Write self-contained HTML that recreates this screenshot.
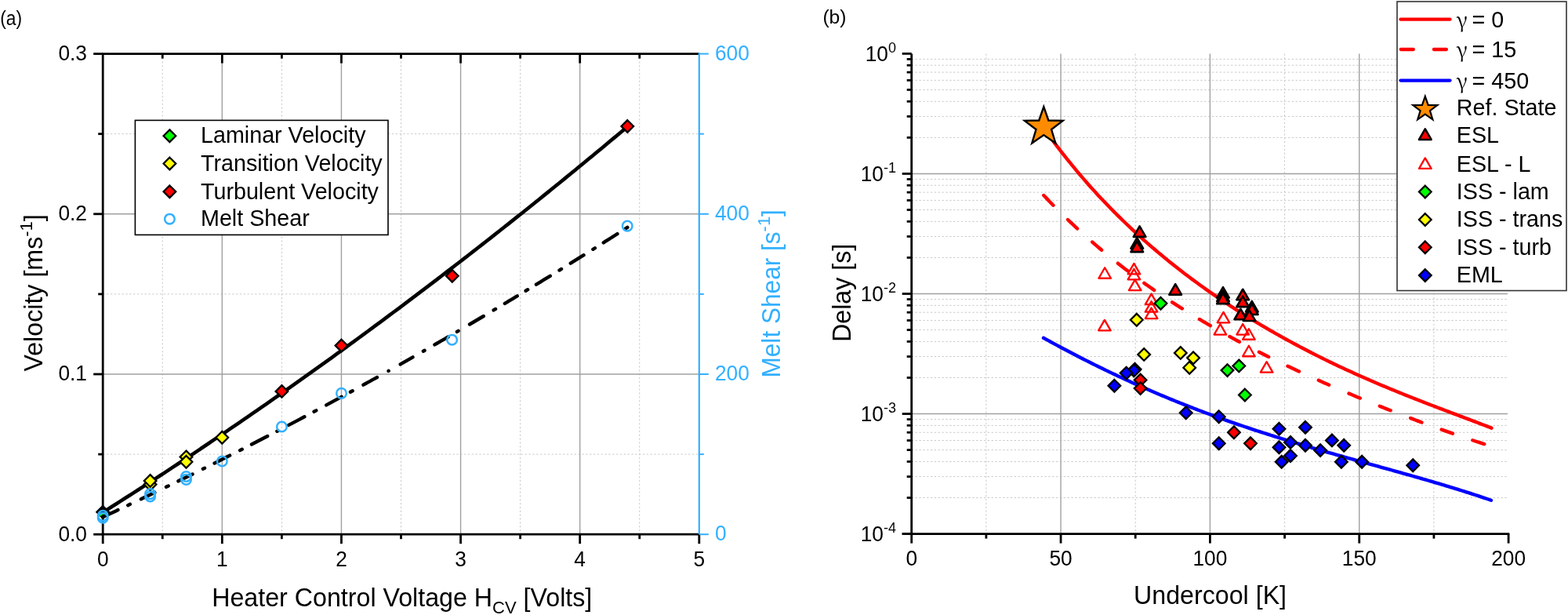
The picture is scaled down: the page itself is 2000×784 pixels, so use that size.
<!DOCTYPE html>
<html><head><meta charset="utf-8"><title>Figure</title>
<style>html,body{margin:0;padding:0;background:#fff;width:2000px;height:784px;overflow:hidden}svg{display:block}</style>
</head><body>
<svg width="2000" height="784" viewBox="0 0 2000 784">
<rect width="2000" height="784" fill="#fff"/>
<line x1="207.26" y1="68.6" x2="207.26" y2="681.2" stroke="#cacaca" stroke-width="1" stroke-dasharray="2.4 2.45"/>
<line x1="359.38" y1="68.6" x2="359.38" y2="681.2" stroke="#cacaca" stroke-width="1" stroke-dasharray="2.4 2.45"/>
<line x1="511.5" y1="68.6" x2="511.5" y2="681.2" stroke="#cacaca" stroke-width="1" stroke-dasharray="2.4 2.45"/>
<line x1="663.62" y1="68.6" x2="663.62" y2="681.2" stroke="#cacaca" stroke-width="1" stroke-dasharray="2.4 2.45"/>
<line x1="815.74" y1="68.6" x2="815.74" y2="681.2" stroke="#cacaca" stroke-width="1" stroke-dasharray="2.4 2.45"/>
<line x1="131.2" y1="579.1" x2="891.8" y2="579.1" stroke="#cacaca" stroke-width="1" stroke-dasharray="2.4 2.45"/>
<line x1="131.2" y1="374.9" x2="891.8" y2="374.9" stroke="#cacaca" stroke-width="1" stroke-dasharray="2.4 2.45"/>
<line x1="131.2" y1="170.7" x2="891.8" y2="170.7" stroke="#cacaca" stroke-width="1" stroke-dasharray="2.4 2.45"/>
<line x1="283.32" y1="68.6" x2="283.32" y2="681.2" stroke="#a0a0a0" stroke-width="1.4"/>
<line x1="435.44" y1="68.6" x2="435.44" y2="681.2" stroke="#a0a0a0" stroke-width="1.4"/>
<line x1="587.56" y1="68.6" x2="587.56" y2="681.2" stroke="#a0a0a0" stroke-width="1.4"/>
<line x1="739.68" y1="68.6" x2="739.68" y2="681.2" stroke="#a0a0a0" stroke-width="1.4"/>
<line x1="131.2" y1="477" x2="891.8" y2="477" stroke="#a0a0a0" stroke-width="1.4"/>
<line x1="131.2" y1="272.8" x2="891.8" y2="272.8" stroke="#a0a0a0" stroke-width="1.4"/>
<line x1="131.2" y1="68.6" x2="131.2" y2="681.2" stroke="#000" stroke-width="2.8"/>
<line x1="129.8" y1="68.6" x2="891.8" y2="68.6" stroke="#000" stroke-width="2.8"/>
<line x1="129.8" y1="681.2" x2="891.8" y2="681.2" stroke="#000" stroke-width="2.8"/>
<line x1="891.8" y1="67.2" x2="891.8" y2="681.2" stroke="#33b0ff" stroke-width="2.2"/>
<line x1="131.2" y1="681.2" x2="131.2" y2="693.2" stroke="#000" stroke-width="2.8"/>
<line x1="283.32" y1="681.2" x2="283.32" y2="693.2" stroke="#000" stroke-width="2.8"/>
<line x1="283.32" y1="68.6" x2="283.32" y2="80.6" stroke="#000" stroke-width="2.8"/>
<line x1="435.44" y1="681.2" x2="435.44" y2="693.2" stroke="#000" stroke-width="2.8"/>
<line x1="435.44" y1="68.6" x2="435.44" y2="80.6" stroke="#000" stroke-width="2.8"/>
<line x1="587.56" y1="681.2" x2="587.56" y2="693.2" stroke="#000" stroke-width="2.8"/>
<line x1="587.56" y1="68.6" x2="587.56" y2="80.6" stroke="#000" stroke-width="2.8"/>
<line x1="739.68" y1="681.2" x2="739.68" y2="693.2" stroke="#000" stroke-width="2.8"/>
<line x1="739.68" y1="68.6" x2="739.68" y2="80.6" stroke="#000" stroke-width="2.8"/>
<line x1="891.8" y1="681.2" x2="891.8" y2="693.2" stroke="#000" stroke-width="2.8"/>
<line x1="207.26" y1="681.2" x2="207.26" y2="687.2" stroke="#000" stroke-width="2.8"/>
<line x1="207.26" y1="68.6" x2="207.26" y2="74.6" stroke="#000" stroke-width="2.8"/>
<line x1="359.38" y1="681.2" x2="359.38" y2="687.2" stroke="#000" stroke-width="2.8"/>
<line x1="359.38" y1="68.6" x2="359.38" y2="74.6" stroke="#000" stroke-width="2.8"/>
<line x1="511.5" y1="681.2" x2="511.5" y2="687.2" stroke="#000" stroke-width="2.8"/>
<line x1="511.5" y1="68.6" x2="511.5" y2="74.6" stroke="#000" stroke-width="2.8"/>
<line x1="663.62" y1="681.2" x2="663.62" y2="687.2" stroke="#000" stroke-width="2.8"/>
<line x1="663.62" y1="68.6" x2="663.62" y2="74.6" stroke="#000" stroke-width="2.8"/>
<line x1="815.74" y1="681.2" x2="815.74" y2="687.2" stroke="#000" stroke-width="2.8"/>
<line x1="815.74" y1="68.6" x2="815.74" y2="74.6" stroke="#000" stroke-width="2.8"/>
<line x1="119.2" y1="681.2" x2="131.2" y2="681.2" stroke="#000" stroke-width="2.8"/>
<line x1="891.8" y1="681.2" x2="903.8" y2="681.2" stroke="#33b0ff" stroke-width="2"/>
<line x1="119.2" y1="477" x2="131.2" y2="477" stroke="#000" stroke-width="2.8"/>
<line x1="891.8" y1="477" x2="903.8" y2="477" stroke="#33b0ff" stroke-width="2"/>
<line x1="119.2" y1="272.8" x2="131.2" y2="272.8" stroke="#000" stroke-width="2.8"/>
<line x1="891.8" y1="272.8" x2="903.8" y2="272.8" stroke="#33b0ff" stroke-width="2"/>
<line x1="119.2" y1="68.6" x2="131.2" y2="68.6" stroke="#000" stroke-width="2.8"/>
<line x1="891.8" y1="68.6" x2="903.8" y2="68.6" stroke="#33b0ff" stroke-width="2"/>
<line x1="125.2" y1="579.1" x2="131.2" y2="579.1" stroke="#000" stroke-width="2.8"/>
<line x1="891.8" y1="579.1" x2="897.8" y2="579.1" stroke="#33b0ff" stroke-width="2"/>
<line x1="125.2" y1="374.9" x2="131.2" y2="374.9" stroke="#000" stroke-width="2.8"/>
<line x1="891.8" y1="374.9" x2="897.8" y2="374.9" stroke="#33b0ff" stroke-width="2"/>
<line x1="125.2" y1="170.7" x2="131.2" y2="170.7" stroke="#000" stroke-width="2.8"/>
<line x1="891.8" y1="170.7" x2="897.8" y2="170.7" stroke="#33b0ff" stroke-width="2"/>
<text font-family='"Liberation Sans", Arial, sans-serif' font-size="26.3" text-anchor="middle" transform="translate(131.20,721.80) scale(1,1.04)">0</text>
<text font-family='"Liberation Sans", Arial, sans-serif' font-size="26.3" text-anchor="middle" transform="translate(283.32,721.80) scale(1,1.04)">1</text>
<text font-family='"Liberation Sans", Arial, sans-serif' font-size="26.3" text-anchor="middle" transform="translate(435.44,721.80) scale(1,1.04)">2</text>
<text font-family='"Liberation Sans", Arial, sans-serif' font-size="26.3" text-anchor="middle" transform="translate(587.56,721.80) scale(1,1.04)">3</text>
<text font-family='"Liberation Sans", Arial, sans-serif' font-size="26.3" text-anchor="middle" transform="translate(739.68,721.80) scale(1,1.04)">4</text>
<text font-family='"Liberation Sans", Arial, sans-serif' font-size="26.3" text-anchor="middle" transform="translate(891.80,721.80) scale(1,1.04)">5</text>
<text font-family='"Liberation Sans", Arial, sans-serif' font-size="26.3" text-anchor="end" transform="translate(111.00,689.50) scale(1,1.04)">0.0</text>
<text font-family='"Liberation Sans", Arial, sans-serif' font-size="26.3" text-anchor="end" transform="translate(111.00,485.30) scale(1,1.04)">0.1</text>
<text font-family='"Liberation Sans", Arial, sans-serif' font-size="26.3" text-anchor="end" transform="translate(111.00,281.10) scale(1,1.04)">0.2</text>
<text font-family='"Liberation Sans", Arial, sans-serif' font-size="26.3" text-anchor="end" transform="translate(111.00,76.90) scale(1,1.04)">0.3</text>
<text font-family='"Liberation Sans", Arial, sans-serif' font-size="26.3" fill="#33b0ff" transform="translate(911.90,689.30) scale(1,1.04)">0</text>
<text font-family='"Liberation Sans", Arial, sans-serif' font-size="26.3" fill="#33b0ff" transform="translate(911.90,485.10) scale(1,1.04)">200</text>
<text font-family='"Liberation Sans", Arial, sans-serif' font-size="26.3" fill="#33b0ff" transform="translate(911.90,280.90) scale(1,1.04)">400</text>
<text font-family='"Liberation Sans", Arial, sans-serif' font-size="26.3" fill="#33b0ff" transform="translate(911.90,76.70) scale(1,1.04)">600</text>
<text font-family='"Liberation Sans", Arial, sans-serif' font-size="32.2" transform="translate(270.20,773.30) scale(1,1.04)">Heater Control Voltage H<tspan font-size="22" dy="8.3">CV</tspan><tspan dy="-8.3"> [Volts]</tspan></text>
<text font-family='"Liberation Sans", Arial, sans-serif' font-size="32.2" transform="translate(54.40,473.50) rotate(-90) scale(1,1.04)">Velocity [ms<tspan font-size="22" dy="-13.2">-1</tspan><tspan dy="13.2">]</tspan></text>
<text font-family='"Liberation Sans", Arial, sans-serif' font-size="31.6" fill="#33b0ff" transform="translate(995.40,481.50) rotate(-90) scale(1,1.04)">Melt Shear [s<tspan font-size="22" dy="-13.3">-1</tspan><tspan dy="13.3">]</tspan></text>
<path d="M131.2,645 L139,652.8 L131.2,660.6 L123.4,652.8Z" fill="#000" stroke="#000" stroke-width="2.3" stroke-linejoin="miter"/>
<path d="M131.2,653.13 L136.82,649.58 L142.45,646.03 L148.07,642.46 L153.69,638.88 L159.31,635.29 L164.94,631.69 L170.56,628.09 L176.18,624.47 L181.8,620.84 L187.43,617.21 L193.05,613.56 L198.67,609.9 L204.29,606.23 L209.92,602.56 L215.54,598.87 L221.16,595.18 L226.79,591.47 L232.41,587.75 L238.03,584.03 L243.65,580.29 L249.28,576.54 L254.9,572.79 L260.52,569.02 L266.14,565.25 L271.77,561.46 L277.39,557.67 L283.01,553.86 L288.64,550.05 L294.26,546.22 L299.88,542.39 L305.5,538.54 L311.13,534.69 L316.75,530.82 L322.37,526.95 L327.99,523.07 L333.62,519.17 L339.24,515.27 L344.86,511.35 L350.48,507.43 L356.11,503.5 L361.73,499.55 L367.35,495.6 L372.98,491.64 L378.6,487.66 L384.22,483.68 L389.84,479.69 L395.47,475.69 L401.09,471.67 L406.71,467.65 L412.33,463.62 L417.96,459.58 L423.58,455.52 L429.2,451.46 L434.83,447.39 L440.45,443.31 L446.07,439.22 L451.69,435.11 L457.32,431 L462.94,426.88 L468.56,422.75 L474.18,418.61 L479.81,414.46 L485.43,410.3 L491.05,406.13 L496.67,401.95 L502.3,397.76 L507.92,393.56 L513.54,389.35 L519.17,385.13 L524.79,380.9 L530.41,376.66 L536.03,372.41 L541.66,368.15 L547.28,363.88 L552.9,359.6 L558.52,355.31 L564.15,351.01 L569.77,346.7 L575.39,342.38 L581.02,338.05 L586.64,333.71 L592.26,329.37 L597.88,325.01 L603.51,320.64 L609.13,316.26 L614.75,311.87 L620.37,307.47 L626,303.07 L631.62,298.65 L637.24,294.22 L642.86,289.78 L648.49,285.34 L654.11,280.88 L659.73,276.41 L665.36,271.94 L670.98,267.45 L676.6,262.95 L682.22,258.44 L687.85,253.93 L693.47,249.4 L699.09,244.87 L704.71,240.32 L710.34,235.76 L715.96,231.2 L721.58,226.62 L727.21,222.04 L732.83,217.44 L738.45,212.84 L744.07,208.22 L749.7,203.59 L755.32,198.96 L760.94,194.31 L766.56,189.66 L772.19,185 L777.81,180.32 L783.43,175.64 L789.05,170.94 L794.68,166.24 L800.3,161.52" fill="none" stroke="#000" stroke-width="4.6" stroke-linecap="butt" stroke-linejoin="round"/>
<path d="M131.2,659.08 L133.96,657.81 L136.72,656.53 L139.47,655.25 L142.23,653.96 L144.99,652.68 L147.75,651.39 L150.51,650.1 M163.19,644.14 L165.91,642.86 M179.89,636.24 L182.79,634.86 L185.7,633.47 L188.6,632.08 L191.51,630.69 L194.41,629.3 L197.32,627.91 M211.98,620.83 L214.72,619.51 M227.38,613.35 L229.97,612.08 L232.56,610.81 L235.16,609.54 L237.75,608.27 L240.34,606.99 L242.93,605.72 L245.53,604.44 M258.87,597.83 L261.03,596.76 M273.57,590.51 L276.36,589.11 L279.16,587.7 L281.95,586.3 L284.75,584.89 L287.55,583.48 L290.34,582.07 L293.14,580.66 M306.06,574.1 L308.74,572.73 M320.96,566.48 L323.84,565 L326.73,563.52 L329.61,562.03 L332.49,560.54 L335.38,559.05 L338.26,557.56 L341.15,556.07 M353.35,549.72 L354.35,549.19 M368.25,541.91 L371.12,540.4 L373.99,538.89 L376.87,537.37 L379.74,535.85 L382.61,534.33 L385.48,532.81 L388.36,531.29 M400.54,524.79 L403.26,523.34 M416.24,516.37 L419,514.88 L421.76,513.39 L424.52,511.9 L427.28,510.41 L430.04,508.91 L432.81,507.41 L435.57,505.91 M446.93,499.72 L449.67,498.22 M463.43,490.66 L466.35,489.05 L469.28,487.43 L472.2,485.81 L475.13,484.19 L478.05,482.57 L480.98,480.95 M495.52,472.84 L495.68,472.75 M510.67,464.33 L513.3,462.84 L515.94,461.35 L518.58,459.86 L521.21,458.37 L523.85,456.87 L526.49,455.38 M539.91,447.73 L541.59,446.77 M554.41,439.42 L557.27,437.77 L560.14,436.12 L563,434.46 L565.87,432.81 L568.73,431.15 L571.6,429.49 M582.9,422.91 L584.6,421.92 M599,413.5 L601.97,411.75 L604.93,410.01 L607.9,408.26 L610.87,406.51 L613.84,404.75 L616.81,403 M629.59,395.41 L632.01,393.97 M643.89,386.87 L646.53,385.29 L649.16,383.7 L651.8,382.12 L654.44,380.53 L657.08,378.94 L659.72,377.35 M670.63,370.75 L673.12,369.24 M683.98,362.63 L686.94,360.83 L689.89,359.02 L692.85,357.21 L695.81,355.4 L698.77,353.59 L701.73,351.77 M713.47,344.53 L716.03,342.95 M727.77,335.68 L730.56,333.94 L733.36,332.2 L736.15,330.46 L738.95,328.71 L741.74,326.97 L744.54,325.22 M756.36,317.8 L758.84,316.24 M769.76,309.35 L772.71,307.48 L775.65,305.61 L778.6,303.74 L781.55,301.87 L784.5,299.99 L787.45,298.12 M798.25,291.21 L800.3,289.9" fill="none" stroke="#000" stroke-width="4.4" stroke-linecap="round" stroke-linejoin="round"/>
<path d="M127.5,657.5 Q130,653.5 135,654.5" stroke="#00ff00" stroke-width="2.2" fill="none"/>
<path d="M191.6,609.8 L199.4,617.6 L191.6,625.4 L183.8,617.6Z" fill="#ffff00" stroke="#000" stroke-width="2.3" stroke-linejoin="miter"/>
<path d="M191.6,605.1 L199.4,612.9 L191.6,620.7 L183.8,612.9Z" fill="#ffff00" stroke="#000" stroke-width="2.3" stroke-linejoin="miter"/>
<path d="M237.5,574.6 L245.3,582.4 L237.5,590.2 L229.7,582.4Z" fill="#ffff00" stroke="#000" stroke-width="2.3" stroke-linejoin="miter"/>
<path d="M237.5,581 L245.3,588.8 L237.5,596.6 L229.7,588.8Z" fill="#ffff00" stroke="#000" stroke-width="2.3" stroke-linejoin="miter"/>
<path d="M283.3,549.9 L291.1,557.7 L283.3,565.5 L275.5,557.7Z" fill="#ffff00" stroke="#000" stroke-width="2.3" stroke-linejoin="miter"/>
<path d="M359.4,491.1 L367.2,498.9 L359.4,506.7 L351.6,498.9Z" fill="#ff0000" stroke="#000" stroke-width="2.3" stroke-linejoin="miter"/>
<path d="M435.5,432.7 L443.3,440.5 L435.5,448.3 L427.7,440.5Z" fill="#ff0000" stroke="#000" stroke-width="2.3" stroke-linejoin="miter"/>
<path d="M576.8,344 L584.6,351.8 L576.8,359.6 L569,351.8Z" fill="#ff0000" stroke="#000" stroke-width="2.3" stroke-linejoin="miter"/>
<path d="M800.3,153.2 L808.1,161 L800.3,168.8 L792.5,161Z" fill="#ff0000" stroke="#000" stroke-width="2.3" stroke-linejoin="miter"/>
<circle cx="131.2" cy="657.4" r="6.3" fill="none" stroke="#33b0ff" stroke-width="2.5"/>
<circle cx="131.2" cy="660.2" r="6.3" fill="none" stroke="#33b0ff" stroke-width="2.5"/>
<circle cx="191.6" cy="633" r="6.3" fill="none" stroke="#33b0ff" stroke-width="2.5"/>
<circle cx="191.6" cy="629.6" r="6.3" fill="none" stroke="#33b0ff" stroke-width="2.5"/>
<circle cx="237.5" cy="611.4" r="6.3" fill="none" stroke="#33b0ff" stroke-width="2.5"/>
<circle cx="237.5" cy="607.5" r="6.3" fill="none" stroke="#33b0ff" stroke-width="2.5"/>
<circle cx="283.3" cy="588" r="6.3" fill="none" stroke="#33b0ff" stroke-width="2.5"/>
<circle cx="359.4" cy="544" r="6.3" fill="none" stroke="#33b0ff" stroke-width="2.5"/>
<circle cx="435.5" cy="501.4" r="6.3" fill="none" stroke="#33b0ff" stroke-width="2.5"/>
<circle cx="576.6" cy="433.2" r="6.3" fill="none" stroke="#33b0ff" stroke-width="2.5"/>
<circle cx="800.2" cy="288.1" r="6.3" fill="none" stroke="#33b0ff" stroke-width="2.5"/>
<rect x="172.4" y="153.4" width="322.6" height="146" fill="#fff" stroke="#000" stroke-width="1.6"/>
<path d="M216.4,165.4 L224.2,173.2 L216.4,181 L208.6,173.2Z" fill="#00ff00" stroke="#000" stroke-width="2.3" stroke-linejoin="miter"/>
<path d="M216.4,200.7 L224.2,208.5 L216.4,216.3 L208.6,208.5Z" fill="#ffff00" stroke="#000" stroke-width="2.3" stroke-linejoin="miter"/>
<path d="M216.4,236.5 L224.2,244.3 L216.4,252.1 L208.6,244.3Z" fill="#ff0000" stroke="#000" stroke-width="2.3" stroke-linejoin="miter"/>
<circle cx="216.4" cy="279.2" r="6.3" fill="none" stroke="#33b0ff" stroke-width="2.5"/>
<text font-family='"Liberation Sans", Arial, sans-serif' font-size="28.7" transform="translate(256.00,182.40) scale(1,1.04)">Laminar Velocity</text>
<text font-family='"Liberation Sans", Arial, sans-serif' font-size="28.7" transform="translate(256.00,217.70) scale(1,1.04)">Transition Velocity</text>
<text font-family='"Liberation Sans", Arial, sans-serif' font-size="28.7" transform="translate(256.00,253.50) scale(1,1.04)">Turbulent Velocity</text>
<text font-family='"Liberation Sans", Arial, sans-serif' font-size="28.7" transform="translate(256.00,288.40) scale(1,1.04)">Melt Shear</text>
<text font-family='"Liberation Sans", Arial, sans-serif' font-size="23.5" transform="translate(0.20,32.20) scale(0.97,1.06)">(a)</text>
<text font-family='"Liberation Sans", Arial, sans-serif' font-size="23.5" transform="translate(1049.40,30.30) scale(1.05,1.05)">(b)</text>
<line x1="1162.7" y1="175.38" x2="1923.1" y2="175.38" stroke="#cacaca" stroke-width="1" stroke-dasharray="2.4 2.45"/>
<line x1="1162.7" y1="148.43" x2="1923.1" y2="148.43" stroke="#cacaca" stroke-width="1" stroke-dasharray="2.4 2.45"/>
<line x1="1162.7" y1="129.3" x2="1923.1" y2="129.3" stroke="#cacaca" stroke-width="1" stroke-dasharray="2.4 2.45"/>
<line x1="1162.7" y1="114.47" x2="1923.1" y2="114.47" stroke="#cacaca" stroke-width="1" stroke-dasharray="2.4 2.45"/>
<line x1="1162.7" y1="102.35" x2="1923.1" y2="102.35" stroke="#cacaca" stroke-width="1" stroke-dasharray="2.4 2.45"/>
<line x1="1162.7" y1="92.11" x2="1923.1" y2="92.11" stroke="#cacaca" stroke-width="1" stroke-dasharray="2.4 2.45"/>
<line x1="1162.7" y1="83.23" x2="1923.1" y2="83.23" stroke="#cacaca" stroke-width="1" stroke-dasharray="2.4 2.45"/>
<line x1="1162.7" y1="75.4" x2="1923.1" y2="75.4" stroke="#cacaca" stroke-width="1" stroke-dasharray="2.4 2.45"/>
<line x1="1162.7" y1="328.43" x2="1923.1" y2="328.43" stroke="#cacaca" stroke-width="1" stroke-dasharray="2.4 2.45"/>
<line x1="1162.7" y1="301.48" x2="1923.1" y2="301.48" stroke="#cacaca" stroke-width="1" stroke-dasharray="2.4 2.45"/>
<line x1="1162.7" y1="282.35" x2="1923.1" y2="282.35" stroke="#cacaca" stroke-width="1" stroke-dasharray="2.4 2.45"/>
<line x1="1162.7" y1="267.52" x2="1923.1" y2="267.52" stroke="#cacaca" stroke-width="1" stroke-dasharray="2.4 2.45"/>
<line x1="1162.7" y1="255.4" x2="1923.1" y2="255.4" stroke="#cacaca" stroke-width="1" stroke-dasharray="2.4 2.45"/>
<line x1="1162.7" y1="245.16" x2="1923.1" y2="245.16" stroke="#cacaca" stroke-width="1" stroke-dasharray="2.4 2.45"/>
<line x1="1162.7" y1="236.28" x2="1923.1" y2="236.28" stroke="#cacaca" stroke-width="1" stroke-dasharray="2.4 2.45"/>
<line x1="1162.7" y1="228.45" x2="1923.1" y2="228.45" stroke="#cacaca" stroke-width="1" stroke-dasharray="2.4 2.45"/>
<line x1="1162.7" y1="481.48" x2="1923.1" y2="481.48" stroke="#cacaca" stroke-width="1" stroke-dasharray="2.4 2.45"/>
<line x1="1162.7" y1="454.53" x2="1923.1" y2="454.53" stroke="#cacaca" stroke-width="1" stroke-dasharray="2.4 2.45"/>
<line x1="1162.7" y1="435.4" x2="1923.1" y2="435.4" stroke="#cacaca" stroke-width="1" stroke-dasharray="2.4 2.45"/>
<line x1="1162.7" y1="420.57" x2="1923.1" y2="420.57" stroke="#cacaca" stroke-width="1" stroke-dasharray="2.4 2.45"/>
<line x1="1162.7" y1="408.45" x2="1923.1" y2="408.45" stroke="#cacaca" stroke-width="1" stroke-dasharray="2.4 2.45"/>
<line x1="1162.7" y1="398.21" x2="1923.1" y2="398.21" stroke="#cacaca" stroke-width="1" stroke-dasharray="2.4 2.45"/>
<line x1="1162.7" y1="389.33" x2="1923.1" y2="389.33" stroke="#cacaca" stroke-width="1" stroke-dasharray="2.4 2.45"/>
<line x1="1162.7" y1="381.5" x2="1923.1" y2="381.5" stroke="#cacaca" stroke-width="1" stroke-dasharray="2.4 2.45"/>
<line x1="1162.7" y1="634.53" x2="1923.1" y2="634.53" stroke="#cacaca" stroke-width="1" stroke-dasharray="2.4 2.45"/>
<line x1="1162.7" y1="607.58" x2="1923.1" y2="607.58" stroke="#cacaca" stroke-width="1" stroke-dasharray="2.4 2.45"/>
<line x1="1162.7" y1="588.45" x2="1923.1" y2="588.45" stroke="#cacaca" stroke-width="1" stroke-dasharray="2.4 2.45"/>
<line x1="1162.7" y1="573.62" x2="1923.1" y2="573.62" stroke="#cacaca" stroke-width="1" stroke-dasharray="2.4 2.45"/>
<line x1="1162.7" y1="561.5" x2="1923.1" y2="561.5" stroke="#cacaca" stroke-width="1" stroke-dasharray="2.4 2.45"/>
<line x1="1162.7" y1="551.26" x2="1923.1" y2="551.26" stroke="#cacaca" stroke-width="1" stroke-dasharray="2.4 2.45"/>
<line x1="1162.7" y1="542.38" x2="1923.1" y2="542.38" stroke="#cacaca" stroke-width="1" stroke-dasharray="2.4 2.45"/>
<line x1="1162.7" y1="534.55" x2="1923.1" y2="534.55" stroke="#cacaca" stroke-width="1" stroke-dasharray="2.4 2.45"/>
<line x1="1257.88" y1="68.4" x2="1257.88" y2="680.6" stroke="#cacaca" stroke-width="1" stroke-dasharray="2.4 2.45"/>
<line x1="1448.22" y1="68.4" x2="1448.22" y2="680.6" stroke="#cacaca" stroke-width="1" stroke-dasharray="2.4 2.45"/>
<line x1="1638.58" y1="68.4" x2="1638.58" y2="680.6" stroke="#cacaca" stroke-width="1" stroke-dasharray="2.4 2.45"/>
<line x1="1828.92" y1="68.4" x2="1828.92" y2="680.6" stroke="#cacaca" stroke-width="1" stroke-dasharray="2.4 2.45"/>
<line x1="1353.05" y1="68.4" x2="1353.05" y2="680.6" stroke="#a0a0a0" stroke-width="1.4"/>
<line x1="1543.4" y1="68.4" x2="1543.4" y2="680.6" stroke="#a0a0a0" stroke-width="1.4"/>
<line x1="1733.75" y1="68.4" x2="1733.75" y2="680.6" stroke="#a0a0a0" stroke-width="1.4"/>
<line x1="1162.7" y1="221.45" x2="1923.1" y2="221.45" stroke="#a0a0a0" stroke-width="1.4"/>
<line x1="1162.7" y1="374.5" x2="1923.1" y2="374.5" stroke="#a0a0a0" stroke-width="1.4"/>
<line x1="1162.7" y1="527.55" x2="1923.1" y2="527.55" stroke="#a0a0a0" stroke-width="1.4"/>
<line x1="1162.7" y1="68.4" x2="1162.7" y2="680.6" stroke="#000" stroke-width="2.8"/>
<line x1="1150.7" y1="680.6" x2="1925.3" y2="680.6" stroke="#000" stroke-width="2.8"/>
<line x1="1162.7" y1="680.6" x2="1162.7" y2="692.6" stroke="#000" stroke-width="2.8"/>
<line x1="1353.05" y1="680.6" x2="1353.05" y2="692.6" stroke="#000" stroke-width="2.8"/>
<line x1="1543.4" y1="680.6" x2="1543.4" y2="692.6" stroke="#000" stroke-width="2.8"/>
<line x1="1733.75" y1="680.6" x2="1733.75" y2="692.6" stroke="#000" stroke-width="2.8"/>
<line x1="1924.1" y1="680.6" x2="1924.1" y2="692.6" stroke="#000" stroke-width="2.8"/>
<line x1="1257.88" y1="680.6" x2="1257.88" y2="686.6" stroke="#000" stroke-width="2.8"/>
<line x1="1448.22" y1="680.6" x2="1448.22" y2="686.6" stroke="#000" stroke-width="2.8"/>
<line x1="1638.58" y1="680.6" x2="1638.58" y2="686.6" stroke="#000" stroke-width="2.8"/>
<line x1="1828.92" y1="680.6" x2="1828.92" y2="686.6" stroke="#000" stroke-width="2.8"/>
<line x1="1150.7" y1="68.4" x2="1162.7" y2="68.4" stroke="#000" stroke-width="2.8"/>
<line x1="1150.7" y1="221.45" x2="1162.7" y2="221.45" stroke="#000" stroke-width="2.8"/>
<line x1="1150.7" y1="374.5" x2="1162.7" y2="374.5" stroke="#000" stroke-width="2.8"/>
<line x1="1150.7" y1="527.55" x2="1162.7" y2="527.55" stroke="#000" stroke-width="2.8"/>
<line x1="1150.7" y1="680.6" x2="1162.7" y2="680.6" stroke="#000" stroke-width="2.8"/>
<line x1="1156.7" y1="175.38" x2="1162.7" y2="175.38" stroke="#000" stroke-width="2.8"/>
<line x1="1156.7" y1="148.43" x2="1162.7" y2="148.43" stroke="#000" stroke-width="2.8"/>
<line x1="1156.7" y1="129.3" x2="1162.7" y2="129.3" stroke="#000" stroke-width="2.8"/>
<line x1="1156.7" y1="114.47" x2="1162.7" y2="114.47" stroke="#000" stroke-width="2.8"/>
<line x1="1156.7" y1="102.35" x2="1162.7" y2="102.35" stroke="#000" stroke-width="2.8"/>
<line x1="1156.7" y1="92.11" x2="1162.7" y2="92.11" stroke="#000" stroke-width="2.8"/>
<line x1="1156.7" y1="83.23" x2="1162.7" y2="83.23" stroke="#000" stroke-width="2.8"/>
<line x1="1156.7" y1="75.4" x2="1162.7" y2="75.4" stroke="#000" stroke-width="2.8"/>
<line x1="1156.7" y1="328.43" x2="1162.7" y2="328.43" stroke="#000" stroke-width="2.8"/>
<line x1="1156.7" y1="301.48" x2="1162.7" y2="301.48" stroke="#000" stroke-width="2.8"/>
<line x1="1156.7" y1="282.35" x2="1162.7" y2="282.35" stroke="#000" stroke-width="2.8"/>
<line x1="1156.7" y1="267.52" x2="1162.7" y2="267.52" stroke="#000" stroke-width="2.8"/>
<line x1="1156.7" y1="255.4" x2="1162.7" y2="255.4" stroke="#000" stroke-width="2.8"/>
<line x1="1156.7" y1="245.16" x2="1162.7" y2="245.16" stroke="#000" stroke-width="2.8"/>
<line x1="1156.7" y1="236.28" x2="1162.7" y2="236.28" stroke="#000" stroke-width="2.8"/>
<line x1="1156.7" y1="228.45" x2="1162.7" y2="228.45" stroke="#000" stroke-width="2.8"/>
<line x1="1156.7" y1="481.48" x2="1162.7" y2="481.48" stroke="#000" stroke-width="2.8"/>
<line x1="1156.7" y1="454.53" x2="1162.7" y2="454.53" stroke="#000" stroke-width="2.8"/>
<line x1="1156.7" y1="435.4" x2="1162.7" y2="435.4" stroke="#000" stroke-width="2.8"/>
<line x1="1156.7" y1="420.57" x2="1162.7" y2="420.57" stroke="#000" stroke-width="2.8"/>
<line x1="1156.7" y1="408.45" x2="1162.7" y2="408.45" stroke="#000" stroke-width="2.8"/>
<line x1="1156.7" y1="398.21" x2="1162.7" y2="398.21" stroke="#000" stroke-width="2.8"/>
<line x1="1156.7" y1="389.33" x2="1162.7" y2="389.33" stroke="#000" stroke-width="2.8"/>
<line x1="1156.7" y1="381.5" x2="1162.7" y2="381.5" stroke="#000" stroke-width="2.8"/>
<line x1="1156.7" y1="634.53" x2="1162.7" y2="634.53" stroke="#000" stroke-width="2.8"/>
<line x1="1156.7" y1="607.58" x2="1162.7" y2="607.58" stroke="#000" stroke-width="2.8"/>
<line x1="1156.7" y1="588.45" x2="1162.7" y2="588.45" stroke="#000" stroke-width="2.8"/>
<line x1="1156.7" y1="573.62" x2="1162.7" y2="573.62" stroke="#000" stroke-width="2.8"/>
<line x1="1156.7" y1="561.5" x2="1162.7" y2="561.5" stroke="#000" stroke-width="2.8"/>
<line x1="1156.7" y1="551.26" x2="1162.7" y2="551.26" stroke="#000" stroke-width="2.8"/>
<line x1="1156.7" y1="542.38" x2="1162.7" y2="542.38" stroke="#000" stroke-width="2.8"/>
<line x1="1156.7" y1="534.55" x2="1162.7" y2="534.55" stroke="#000" stroke-width="2.8"/>
<text font-family='"Liberation Sans", Arial, sans-serif' font-size="26.3" text-anchor="middle" transform="translate(1162.70,721.40) scale(1,1.04)">0</text>
<text font-family='"Liberation Sans", Arial, sans-serif' font-size="26.3" text-anchor="middle" transform="translate(1353.05,721.40) scale(1,1.04)">50</text>
<text font-family='"Liberation Sans", Arial, sans-serif' font-size="26.3" text-anchor="middle" transform="translate(1543.40,721.40) scale(1,1.04)">100</text>
<text font-family='"Liberation Sans", Arial, sans-serif' font-size="26.3" text-anchor="middle" transform="translate(1733.75,721.40) scale(1,1.04)">150</text>
<text font-family='"Liberation Sans", Arial, sans-serif' font-size="26.3" text-anchor="middle" transform="translate(1924.10,721.40) scale(1,1.04)">200</text>
<text font-family='"Liberation Sans", Arial, sans-serif' font-size="26.3" text-anchor="end" transform="translate(1143.00,77.60) scale(1,1.04)">10<tspan font-size="18" dy="-10.6">0</tspan></text>
<text font-family='"Liberation Sans", Arial, sans-serif' font-size="26.3" text-anchor="end" transform="translate(1143.00,230.65) scale(1,1.04)">10<tspan font-size="18" dy="-10.6">-1</tspan></text>
<text font-family='"Liberation Sans", Arial, sans-serif' font-size="26.3" text-anchor="end" transform="translate(1143.00,383.70) scale(1,1.04)">10<tspan font-size="18" dy="-10.6">-2</tspan></text>
<text font-family='"Liberation Sans", Arial, sans-serif' font-size="26.3" text-anchor="end" transform="translate(1143.00,536.75) scale(1,1.04)">10<tspan font-size="18" dy="-10.6">-3</tspan></text>
<text font-family='"Liberation Sans", Arial, sans-serif' font-size="26.3" text-anchor="end" transform="translate(1143.00,689.80) scale(1,1.04)">10<tspan font-size="18" dy="-10.6">-4</tspan></text>
<text font-family='"Liberation Sans", Arial, sans-serif' font-size="32.2" transform="translate(1446.00,770.20) scale(1,1.04)">Undercool [K]</text>
<text font-family='"Liberation Sans", Arial, sans-serif' font-size="32.2" transform="translate(1085.30,436.00) rotate(-90) scale(1,1.04)">Delay [s]</text>
<path d="M1331.4,163.45 L1334.27,167.47 L1337.14,171.43 L1340.01,175.35 L1342.88,179.23 L1345.75,183.06 L1348.62,186.85 L1351.49,190.59 L1354.35,194.3 L1357.22,197.96 L1360.09,201.58 L1362.96,205.16 L1365.83,208.71 L1368.7,212.21 L1371.57,215.68 L1374.44,219.11 L1377.31,222.5 L1380.18,225.86 L1383.05,229.18 L1385.92,232.46 L1388.79,235.72 L1391.66,238.93 L1394.53,242.12 L1397.39,245.27 L1400.26,248.39 L1403.13,251.48 L1406,254.53 L1408.87,257.56 L1411.74,260.56 L1414.61,263.52 L1417.48,266.46 L1420.35,269.37 L1423.22,272.25 L1426.09,275.1 L1428.96,277.92 L1431.83,280.72 L1434.7,283.49 L1437.57,286.24 L1440.44,288.96 L1443.3,291.65 L1446.17,294.32 L1449.04,296.96 L1451.91,299.59 L1454.78,302.18 L1457.65,304.76 L1460.52,307.31 L1463.39,309.83 L1466.26,312.34 L1469.13,314.82 L1472,317.28 L1474.87,319.73 L1477.74,322.14 L1480.61,324.54 L1483.48,326.92 L1486.34,329.28 L1489.21,331.62 L1492.08,333.94 L1494.95,336.24 L1497.82,338.52 L1500.69,340.78 L1503.56,343.03 L1506.43,345.25 L1509.3,347.46 L1512.17,349.65 L1515.04,351.82 L1517.91,353.98 L1520.78,356.12 L1523.65,358.24 L1526.52,360.34 L1529.38,362.43 L1532.25,364.51 L1535.12,366.56 L1537.99,368.61 L1540.86,370.63 L1543.73,372.64 L1546.6,374.64 L1549.47,376.62 L1552.34,378.59 L1555.21,380.54 L1558.08,382.47 L1560.95,384.4 L1563.82,386.31 L1566.69,388.2 L1569.56,390.08 L1572.43,391.95 L1575.29,393.81 L1578.16,395.65 L1581.03,397.47 L1583.9,399.29 L1586.77,401.09 L1589.64,402.88 L1592.51,404.66 L1595.38,406.42 L1598.25,408.17 L1601.12,409.91 L1603.99,411.64 L1606.86,413.36 L1609.73,415.06 L1612.6,416.75 L1615.47,418.43 L1618.33,420.1 L1621.2,421.76 L1624.07,423.41 L1626.94,425.04 L1629.81,426.67 L1632.68,428.28 L1635.55,429.88 L1638.42,431.47 L1641.29,433.05 L1644.16,434.62 L1647.03,436.18 L1649.9,437.73 L1652.77,439.27 L1655.64,440.8 L1658.51,442.32 L1661.37,443.82 L1664.24,445.32 L1667.11,446.81 L1669.98,448.29 L1672.85,449.76 L1675.72,451.21 L1678.59,452.66 L1681.46,454.1 L1684.33,455.53 L1687.2,456.96 L1690.07,458.37 L1692.94,459.77 L1695.81,461.16 L1698.68,462.55 L1701.55,463.92 L1704.42,465.29 L1707.28,466.65 L1710.15,468 L1713.02,469.34 L1715.89,470.67 L1718.76,472 L1721.63,473.31 L1724.5,474.62 L1727.37,475.92 L1730.24,477.21 L1733.11,478.5 L1735.98,479.77 L1738.85,481.04 L1741.72,482.3 L1744.59,483.56 L1747.46,484.81 L1750.32,486.05 L1753.19,487.28 L1756.06,488.5 L1758.93,489.72 L1761.8,490.93 L1764.67,492.14 L1767.54,493.34 L1770.41,494.53 L1773.28,495.72 L1776.15,496.9 L1779.02,498.07 L1781.89,499.24 L1784.76,500.4 L1787.63,501.56 L1790.5,502.71 L1793.36,503.86 L1796.23,505 L1799.1,506.14 L1801.97,507.27 L1804.84,508.4 L1807.71,509.53 L1810.58,510.65 L1813.45,511.76 L1816.32,512.87 L1819.19,513.98 L1822.06,515.09 L1824.93,516.19 L1827.8,517.29 L1830.67,518.38 L1833.54,519.48 L1836.41,520.57 L1839.27,521.66 L1842.14,522.75 L1845.01,523.83 L1847.88,524.92 L1850.75,526 L1853.62,527.08 L1856.49,528.16 L1859.36,529.25 L1862.23,530.33 L1865.1,531.41 L1867.97,532.49 L1870.84,533.57 L1873.71,534.66 L1876.58,535.74 L1879.45,536.83 L1882.31,537.92 L1885.18,539.01 L1888.05,540.11 L1890.92,541.2 L1893.79,542.3 L1896.66,543.41 L1899.53,544.51 L1902.4,545.63" fill="none" stroke="#ff0000" stroke-width="4.4" stroke-linecap="round" stroke-linejoin="round"/>
<path d="M1331.21,248.98 L1333.66,251.57 L1336.11,254.13 L1338.56,256.67 L1341,259.19 L1343.45,261.7 M1361.98,280.01 L1364.4,282.32 L1366.82,284.62 L1369.24,286.9 L1371.66,289.16 L1374.08,291.4 M1393.16,308.52 L1396.14,311.11 L1399.13,313.68 L1402.12,316.22 L1405.11,318.74 M1425.92,335.69 L1428.49,337.71 L1431.05,339.71 L1433.62,341.69 L1436.18,343.67 L1438.75,345.62 M1459.38,360.87 L1461.95,362.7 L1464.51,364.52 L1467.07,366.32 L1469.63,368.11 L1472.19,369.89 M1495.14,385.31 L1497.68,386.95 L1500.22,388.59 L1502.76,390.22 L1505.3,391.84 L1507.84,393.44 M1529.89,406.98 L1532.69,408.64 L1535.49,410.3 L1538.29,411.95 L1541.09,413.58 L1543.89,415.21 M1568.43,429.01 L1570.93,430.38 L1573.44,431.74 L1575.95,433.1 L1578.45,434.44 L1580.96,435.78 M1605.96,448.79 L1608.39,450.02 L1610.83,451.25 L1613.26,452.47 L1615.69,453.69 L1618.13,454.9 M1642.49,466.72 L1645.39,468.1 L1648.29,469.47 L1651.2,470.83 L1654.1,472.19 L1657,473.54 M1681.81,484.83 L1684.48,486.02 L1687.16,487.21 L1689.83,488.39 L1692.51,489.57 L1695.18,490.74 M1720.53,501.64 L1723.37,502.84 L1726.22,504.03 L1729.07,505.22 L1731.92,506.41 L1734.77,507.59 M1759.84,517.79 L1762.62,518.9 L1765.41,520.01 L1768.19,521.11 L1770.97,522.21 L1773.75,523.31 M1799.16,533.1 L1802.01,534.18 L1804.87,535.25 L1807.72,536.32 L1810.58,537.39 L1813.44,538.45 M1838.67,547.63 L1841.52,548.64 L1844.37,549.65 L1847.22,550.65 L1850.07,551.65 L1852.92,552.64 M1878.29,561.25 L1881.27,562.24 L1884.25,563.22 L1887.24,564.19 L1890.22,565.15 L1893.2,566.11" fill="none" stroke="#ff0000" stroke-width="4.4" stroke-linecap="round" stroke-linejoin="round"/>
<path d="M1331,430.77 L1333.87,432.36 L1336.74,433.93 L1339.61,435.5 L1342.48,437.06 L1345.34,438.62 L1348.21,440.16 L1351.08,441.71 L1353.95,443.24 L1356.82,444.76 L1359.69,446.28 L1362.56,447.79 L1365.43,449.3 L1368.29,450.8 L1371.16,452.29 L1374.03,453.77 L1376.9,455.24 L1379.77,456.71 L1382.64,458.17 L1385.51,459.62 L1388.38,461.07 L1391.25,462.51 L1394.11,463.94 L1396.98,465.36 L1399.85,466.78 L1402.72,468.19 L1405.59,469.59 L1408.46,470.98 L1411.33,472.37 L1414.2,473.75 L1417.07,475.12 L1419.93,476.48 L1422.8,477.84 L1425.67,479.19 L1428.54,480.53 L1431.41,481.86 L1434.28,483.19 L1437.15,484.51 L1440.02,485.82 L1442.88,487.13 L1445.75,488.43 L1448.62,489.72 L1451.49,491 L1454.36,492.27 L1457.23,493.54 L1460.1,494.8 L1462.97,496.06 L1465.84,497.3 L1468.7,498.54 L1471.57,499.78 L1474.44,501 L1477.31,502.22 L1480.18,503.43 L1483.05,504.63 L1485.92,505.83 L1488.79,507.02 L1491.66,508.2 L1494.52,509.38 L1497.39,510.54 L1500.26,511.7 L1503.13,512.86 L1506,514.01 L1508.87,515.15 L1511.74,516.28 L1514.61,517.41 L1517.47,518.53 L1520.34,519.64 L1523.21,520.75 L1526.08,521.85 L1528.95,522.94 L1531.82,524.03 L1534.69,525.11 L1537.56,526.19 L1540.43,527.25 L1543.29,528.31 L1546.16,529.37 L1549.03,530.42 L1551.9,531.46 L1554.77,532.5 L1557.64,533.53 L1560.51,534.55 L1563.38,535.57 L1566.25,536.58 L1569.11,537.59 L1571.98,538.59 L1574.85,539.59 L1577.72,540.57 L1580.59,541.56 L1583.46,542.54 L1586.33,543.51 L1589.2,544.48 L1592.06,545.44 L1594.93,546.39 L1597.8,547.34 L1600.67,548.29 L1603.54,549.23 L1606.41,550.17 L1609.28,551.1 L1612.15,552.02 L1615.02,552.94 L1617.88,553.86 L1620.75,554.77 L1623.62,555.68 L1626.49,556.58 L1629.36,557.48 L1632.23,558.37 L1635.1,559.26 L1637.97,560.14 L1640.84,561.03 L1643.7,561.9 L1646.57,562.77 L1649.44,563.64 L1652.31,564.51 L1655.18,565.37 L1658.05,566.23 L1660.92,567.08 L1663.79,567.93 L1666.65,568.78 L1669.52,569.62 L1672.39,570.46 L1675.26,571.3 L1678.13,572.14 L1681,572.97 L1683.87,573.8 L1686.74,574.62 L1689.61,575.45 L1692.47,576.27 L1695.34,577.09 L1698.21,577.9 L1701.08,578.72 L1703.95,579.53 L1706.82,580.34 L1709.69,581.15 L1712.56,581.96 L1715.43,582.76 L1718.29,583.57 L1721.16,584.37 L1724.03,585.17 L1726.9,585.97 L1729.77,586.77 L1732.64,587.57 L1735.51,588.36 L1738.38,589.16 L1741.24,589.96 L1744.11,590.75 L1746.98,591.55 L1749.85,592.34 L1752.72,593.14 L1755.59,593.93 L1758.46,594.73 L1761.33,595.52 L1764.2,596.32 L1767.06,597.11 L1769.93,597.91 L1772.8,598.71 L1775.67,599.5 L1778.54,600.3 L1781.41,601.1 L1784.28,601.91 L1787.15,602.71 L1790.02,603.51 L1792.88,604.32 L1795.75,605.13 L1798.62,605.94 L1801.49,606.75 L1804.36,607.57 L1807.23,608.39 L1810.1,609.21 L1812.97,610.03 L1815.83,610.85 L1818.7,611.68 L1821.57,612.51 L1824.44,613.35 L1827.31,614.19 L1830.18,615.03 L1833.05,615.88 L1835.92,616.73 L1838.79,617.58 L1841.65,618.44 L1844.52,619.3 L1847.39,620.17 L1850.26,621.04 L1853.13,621.92 L1856,622.8 L1858.87,623.69 L1861.74,624.58 L1864.61,625.48 L1867.47,626.38 L1870.34,627.29 L1873.21,628.21 L1876.08,629.13 L1878.95,630.06 L1881.82,630.99 L1884.69,631.93 L1887.56,632.88 L1890.42,633.84 L1893.29,634.8 L1896.16,635.77 L1899.03,636.75 L1901.9,637.73" fill="none" stroke="#0000ff" stroke-width="4.4" stroke-linecap="round" stroke-linejoin="round"/>
<polygon points="1331.3,136.2 1337.35,153.47 1355.65,153.89 1341.1,164.98 1346.35,182.51 1331.3,172.1 1316.25,182.51 1321.5,164.98 1306.95,153.89 1325.25,153.47" fill="#ff8c00" stroke="#000" stroke-width="2.4" stroke-linejoin="miter" stroke-miterlimit="10"/>
<path d="M1453.6,288.35 L1461.4,301.85 L1445.8,301.85Z" fill="#ff0000" stroke="#000" stroke-width="2.6" stroke-linejoin="round"/>
<path d="M1450.3,303.15 L1458.1,316.65 L1442.5,316.65Z" fill="#ff0000" stroke="#000" stroke-width="2.6" stroke-linejoin="round"/>
<path d="M1450.3,307.65 L1458.1,321.15 L1442.5,321.15Z" fill="#ff0000" stroke="#000" stroke-width="2.6" stroke-linejoin="round"/>
<path d="M1499.2,362.15 L1507,375.65 L1491.4,375.65Z" fill="#ff0000" stroke="#000" stroke-width="2.6" stroke-linejoin="round"/>
<path d="M1560,366.05 L1567.8,379.55 L1552.2,379.55Z" fill="#ff0000" stroke="#000" stroke-width="2.6" stroke-linejoin="round"/>
<path d="M1560,370.55 L1567.8,384.05 L1552.2,384.05Z" fill="#ff0000" stroke="#000" stroke-width="2.6" stroke-linejoin="round"/>
<path d="M1560,373.65 L1567.8,387.15 L1552.2,387.15Z" fill="#ff0000" stroke="#000" stroke-width="2.6" stroke-linejoin="round"/>
<path d="M1585.2,368.75 L1593,382.25 L1577.4,382.25Z" fill="#ff0000" stroke="#000" stroke-width="2.6" stroke-linejoin="round"/>
<path d="M1585.2,377.65 L1593,391.15 L1577.4,391.15Z" fill="#ff0000" stroke="#000" stroke-width="2.6" stroke-linejoin="round"/>
<path d="M1596.8,383.95 L1604.6,397.45 L1589,397.45Z" fill="#ff0000" stroke="#000" stroke-width="2.6" stroke-linejoin="round"/>
<path d="M1596.8,387.45 L1604.6,400.95 L1589,400.95Z" fill="#ff0000" stroke="#000" stroke-width="2.6" stroke-linejoin="round"/>
<path d="M1582.3,393.75 L1590.1,407.25 L1574.5,407.25Z" fill="#ff0000" stroke="#000" stroke-width="2.6" stroke-linejoin="round"/>
<path d="M1593.6,395.55 L1601.4,409.05 L1585.8,409.05Z" fill="#ff0000" stroke="#000" stroke-width="2.6" stroke-linejoin="round"/>
<path d="M1409.2,341.25 L1417,354.75 L1401.4,354.75Z" fill="none" stroke="#ff0000" stroke-width="2.3" stroke-linejoin="round"/>
<path d="M1446.4,335.95 L1454.2,349.45 L1438.6,349.45Z" fill="none" stroke="#ff0000" stroke-width="2.3" stroke-linejoin="round"/>
<path d="M1446.4,342.85 L1454.2,356.35 L1438.6,356.35Z" fill="none" stroke="#ff0000" stroke-width="2.3" stroke-linejoin="round"/>
<path d="M1447.7,356.65 L1455.5,370.15 L1439.9,370.15Z" fill="none" stroke="#ff0000" stroke-width="2.3" stroke-linejoin="round"/>
<path d="M1468.6,374.55 L1476.4,388.05 L1460.8,388.05Z" fill="none" stroke="#ff0000" stroke-width="2.3" stroke-linejoin="round"/>
<path d="M1468.6,384.05 L1476.4,397.55 L1460.8,397.55Z" fill="none" stroke="#ff0000" stroke-width="2.3" stroke-linejoin="round"/>
<path d="M1468.6,392.55 L1476.4,406.05 L1460.8,406.05Z" fill="none" stroke="#ff0000" stroke-width="2.3" stroke-linejoin="round"/>
<path d="M1408.9,407.85 L1416.7,421.35 L1401.1,421.35Z" fill="none" stroke="#ff0000" stroke-width="2.3" stroke-linejoin="round"/>
<path d="M1560.5,397.85 L1568.3,411.35 L1552.7,411.35Z" fill="none" stroke="#ff0000" stroke-width="2.3" stroke-linejoin="round"/>
<path d="M1556.4,413.05 L1564.2,426.55 L1548.6,426.55Z" fill="none" stroke="#ff0000" stroke-width="2.3" stroke-linejoin="round"/>
<path d="M1585.2,413.05 L1593,426.55 L1577.4,426.55Z" fill="none" stroke="#ff0000" stroke-width="2.3" stroke-linejoin="round"/>
<path d="M1592.9,419.25 L1600.7,432.75 L1585.1,432.75Z" fill="none" stroke="#ff0000" stroke-width="2.3" stroke-linejoin="round"/>
<path d="M1592.9,440.75 L1600.7,454.25 L1585.1,454.25Z" fill="none" stroke="#ff0000" stroke-width="2.3" stroke-linejoin="round"/>
<path d="M1615.6,461.15 L1623.4,474.65 L1607.8,474.65Z" fill="none" stroke="#ff0000" stroke-width="2.3" stroke-linejoin="round"/>
<path d="M1480.5,379 L1488.3,386.8 L1480.5,394.6 L1472.7,386.8Z" fill="#00ff00" stroke="#000" stroke-width="2.3" stroke-linejoin="miter"/>
<path d="M1565.5,464.3 L1573.3,472.1 L1565.5,479.9 L1557.7,472.1Z" fill="#00ff00" stroke="#000" stroke-width="2.3" stroke-linejoin="miter"/>
<path d="M1580.3,458.6 L1588.1,466.4 L1580.3,474.2 L1572.5,466.4Z" fill="#00ff00" stroke="#000" stroke-width="2.3" stroke-linejoin="miter"/>
<path d="M1587.9,495.7 L1595.7,503.5 L1587.9,511.3 L1580.1,503.5Z" fill="#00ff00" stroke="#000" stroke-width="2.3" stroke-linejoin="miter"/>
<path d="M1449.8,399.9 L1457.6,407.7 L1449.8,415.5 L1442,407.7Z" fill="#ffff00" stroke="#000" stroke-width="2.3" stroke-linejoin="miter"/>
<path d="M1459.2,444.1 L1467,451.9 L1459.2,459.7 L1451.4,451.9Z" fill="#ffff00" stroke="#000" stroke-width="2.3" stroke-linejoin="miter"/>
<path d="M1505.8,442.1 L1513.6,449.9 L1505.8,457.7 L1498,449.9Z" fill="#ffff00" stroke="#000" stroke-width="2.3" stroke-linejoin="miter"/>
<path d="M1522.1,448.5 L1529.9,456.3 L1522.1,464.1 L1514.3,456.3Z" fill="#ffff00" stroke="#000" stroke-width="2.3" stroke-linejoin="miter"/>
<path d="M1517.2,461 L1525,468.8 L1517.2,476.6 L1509.4,468.8Z" fill="#ffff00" stroke="#000" stroke-width="2.3" stroke-linejoin="miter"/>
<path d="M1447.6,463 L1455.4,470.8 L1447.6,478.6 L1439.8,470.8Z" fill="#ff0000" stroke="#000" stroke-width="2.3" stroke-linejoin="miter"/>
<path d="M1454.6,476.6 L1462.4,484.4 L1454.6,492.2 L1446.8,484.4Z" fill="#ff0000" stroke="#000" stroke-width="2.3" stroke-linejoin="miter"/>
<path d="M1454.6,487.3 L1462.4,495.1 L1454.6,502.9 L1446.8,495.1Z" fill="#ff0000" stroke="#000" stroke-width="2.3" stroke-linejoin="miter"/>
<path d="M1573.9,543.4 L1581.7,551.2 L1573.9,559 L1566.1,551.2Z" fill="#ff0000" stroke="#000" stroke-width="2.3" stroke-linejoin="miter"/>
<path d="M1595,557.4 L1602.8,565.2 L1595,573 L1587.2,565.2Z" fill="#ff0000" stroke="#000" stroke-width="2.3" stroke-linejoin="miter"/>
<path d="M1446.3,464.4 L1454.1,472.2 L1446.3,480 L1438.5,472.2Z" fill="#0000ff" stroke="#000" stroke-width="2.3" stroke-linejoin="miter"/>
<path d="M1436.6,467.8 L1444.4,475.6 L1436.6,483.4 L1428.8,475.6Z" fill="#0000ff" stroke="#000" stroke-width="2.3" stroke-linejoin="miter"/>
<path d="M1421.4,484 L1429.2,491.8 L1421.4,499.6 L1413.6,491.8Z" fill="#0000ff" stroke="#000" stroke-width="2.3" stroke-linejoin="miter"/>
<path d="M1512.7,518.4 L1520.5,526.2 L1512.7,534 L1504.9,526.2Z" fill="#0000ff" stroke="#000" stroke-width="2.3" stroke-linejoin="miter"/>
<path d="M1554.7,523.5 L1562.5,531.3 L1554.7,539.1 L1546.9,531.3Z" fill="#0000ff" stroke="#000" stroke-width="2.3" stroke-linejoin="miter"/>
<path d="M1554.7,557.4 L1562.5,565.2 L1554.7,573 L1546.9,565.2Z" fill="#0000ff" stroke="#000" stroke-width="2.3" stroke-linejoin="miter"/>
<path d="M1631.5,539 L1639.3,546.8 L1631.5,554.6 L1623.7,546.8Z" fill="#0000ff" stroke="#000" stroke-width="2.3" stroke-linejoin="miter"/>
<path d="M1665,537 L1672.8,544.8 L1665,552.6 L1657.2,544.8Z" fill="#0000ff" stroke="#000" stroke-width="2.3" stroke-linejoin="miter"/>
<path d="M1631.5,562.5 L1639.3,570.3 L1631.5,578.1 L1623.7,570.3Z" fill="#0000ff" stroke="#000" stroke-width="2.3" stroke-linejoin="miter"/>
<path d="M1646,556.1 L1653.8,563.9 L1646,571.7 L1638.2,563.9Z" fill="#0000ff" stroke="#000" stroke-width="2.3" stroke-linejoin="miter"/>
<path d="M1665,560 L1672.8,567.8 L1665,575.6 L1657.2,567.8Z" fill="#0000ff" stroke="#000" stroke-width="2.3" stroke-linejoin="miter"/>
<path d="M1646,573.2 L1653.8,581 L1646,588.8 L1638.2,581Z" fill="#0000ff" stroke="#000" stroke-width="2.3" stroke-linejoin="miter"/>
<path d="M1634.7,580.9 L1642.5,588.7 L1634.7,596.5 L1626.9,588.7Z" fill="#0000ff" stroke="#000" stroke-width="2.3" stroke-linejoin="miter"/>
<path d="M1684.1,566.3 L1691.9,574.1 L1684.1,581.9 L1676.3,574.1Z" fill="#0000ff" stroke="#000" stroke-width="2.3" stroke-linejoin="miter"/>
<path d="M1698.9,553.6 L1706.7,561.4 L1698.9,569.2 L1691.1,561.4Z" fill="#0000ff" stroke="#000" stroke-width="2.3" stroke-linejoin="miter"/>
<path d="M1714.2,560 L1722,567.8 L1714.2,575.6 L1706.4,567.8Z" fill="#0000ff" stroke="#000" stroke-width="2.3" stroke-linejoin="miter"/>
<path d="M1710.9,580.9 L1718.7,588.7 L1710.9,596.5 L1703.1,588.7Z" fill="#0000ff" stroke="#000" stroke-width="2.3" stroke-linejoin="miter"/>
<path d="M1737.1,580.9 L1744.9,588.7 L1737.1,596.5 L1729.3,588.7Z" fill="#0000ff" stroke="#000" stroke-width="2.3" stroke-linejoin="miter"/>
<path d="M1802.2,585.4 L1810,593.2 L1802.2,601 L1794.4,593.2Z" fill="#0000ff" stroke="#000" stroke-width="2.3" stroke-linejoin="miter"/>
<rect x="1782" y="2" width="216" height="368.5" fill="#fff" stroke="#333" stroke-width="1.6"/>
<line x1="1786.5" y1="24.7" x2="1849.5" y2="24.7" stroke="#ff0000" stroke-width="4.3" stroke-linecap="round"/>
<path d="M1786.8,63 L1802.8,63 M1828.9,63 L1844.9,63" stroke="#ff0000" stroke-width="4.3" stroke-linecap="round"/>
<line x1="1786.5" y1="102.6" x2="1849.5" y2="102.6" stroke="#0000ff" stroke-width="4.3" stroke-linecap="round"/>
<polygon points="1817.8,122.9 1821.62,133.94 1833.3,134.16 1823.98,141.21 1827.38,152.39 1817.8,145.7 1808.22,152.39 1811.62,141.21 1802.3,134.16 1813.98,133.94" fill="#ff8c00" stroke="#000" stroke-width="2.2" stroke-linejoin="miter" stroke-miterlimit="10"/>
<path d="M1817.8,164.45 L1825.6,177.95 L1810,177.95Z" fill="#ff0000" stroke="#000" stroke-width="2.6" stroke-linejoin="round"/>
<path d="M1817.8,201.45 L1825.6,214.95 L1810,214.95Z" fill="none" stroke="#ff0000" stroke-width="2.3" stroke-linejoin="round"/>
<path d="M1817.8,236.7 L1825.6,244.5 L1817.8,252.3 L1810,244.5Z" fill="#00ff00" stroke="#000" stroke-width="2.3" stroke-linejoin="miter"/>
<path d="M1817.8,272.2 L1825.6,280 L1817.8,287.8 L1810,280Z" fill="#ffff00" stroke="#000" stroke-width="2.3" stroke-linejoin="miter"/>
<path d="M1817.8,307.5 L1825.6,315.3 L1817.8,323.1 L1810,315.3Z" fill="#ff0000" stroke="#000" stroke-width="2.3" stroke-linejoin="miter"/>
<path d="M1817.8,343.2 L1825.6,351 L1817.8,358.8 L1810,351Z" fill="#0000ff" stroke="#000" stroke-width="2.3" stroke-linejoin="miter"/>
<text font-family='"Noto Serif CJK SC", "Liberation Serif", serif' font-size="27" transform="translate(1857.40,34.60) scale(1,1.0)">γ</text>
<text font-family='"Liberation Sans", Arial, sans-serif' font-size="28.7" transform="translate(1877.60,34.60) scale(1,1.04)">= 0</text>
<text font-family='"Noto Serif CJK SC", "Liberation Serif", serif' font-size="27" transform="translate(1857.40,72.90) scale(1,1.0)">γ</text>
<text font-family='"Liberation Sans", Arial, sans-serif' font-size="28.7" transform="translate(1877.60,72.90) scale(1,1.04)">= 15</text>
<text font-family='"Noto Serif CJK SC", "Liberation Serif", serif' font-size="27" transform="translate(1857.40,112.50) scale(1,1.0)">γ</text>
<text font-family='"Liberation Sans", Arial, sans-serif' font-size="28.7" transform="translate(1877.60,112.50) scale(1,1.04)">= 450</text>
<text font-family='"Liberation Sans", Arial, sans-serif' font-size="28.7" transform="translate(1857.80,147.00) scale(1,1.04)">Ref. State</text>
<text font-family='"Liberation Sans", Arial, sans-serif' font-size="28.7" transform="translate(1857.80,182.20) scale(1,1.04)">ESL</text>
<text font-family='"Liberation Sans", Arial, sans-serif' font-size="28.7" transform="translate(1857.80,218.70) scale(1,1.04)">ESL - L</text>
<text font-family='"Liberation Sans", Arial, sans-serif' font-size="28.7" transform="translate(1857.80,253.70) scale(1,1.04)">ISS - lam</text>
<text font-family='"Liberation Sans", Arial, sans-serif' font-size="28.7" transform="translate(1857.80,289.20) scale(1,1.04)">ISS - trans</text>
<text font-family='"Liberation Sans", Arial, sans-serif' font-size="28.7" transform="translate(1857.80,324.50) scale(1,1.04)">ISS - turb</text>
<text font-family='"Liberation Sans", Arial, sans-serif' font-size="28.7" transform="translate(1857.80,360.20) scale(1,1.04)">EML</text>
</svg>
</body></html>
